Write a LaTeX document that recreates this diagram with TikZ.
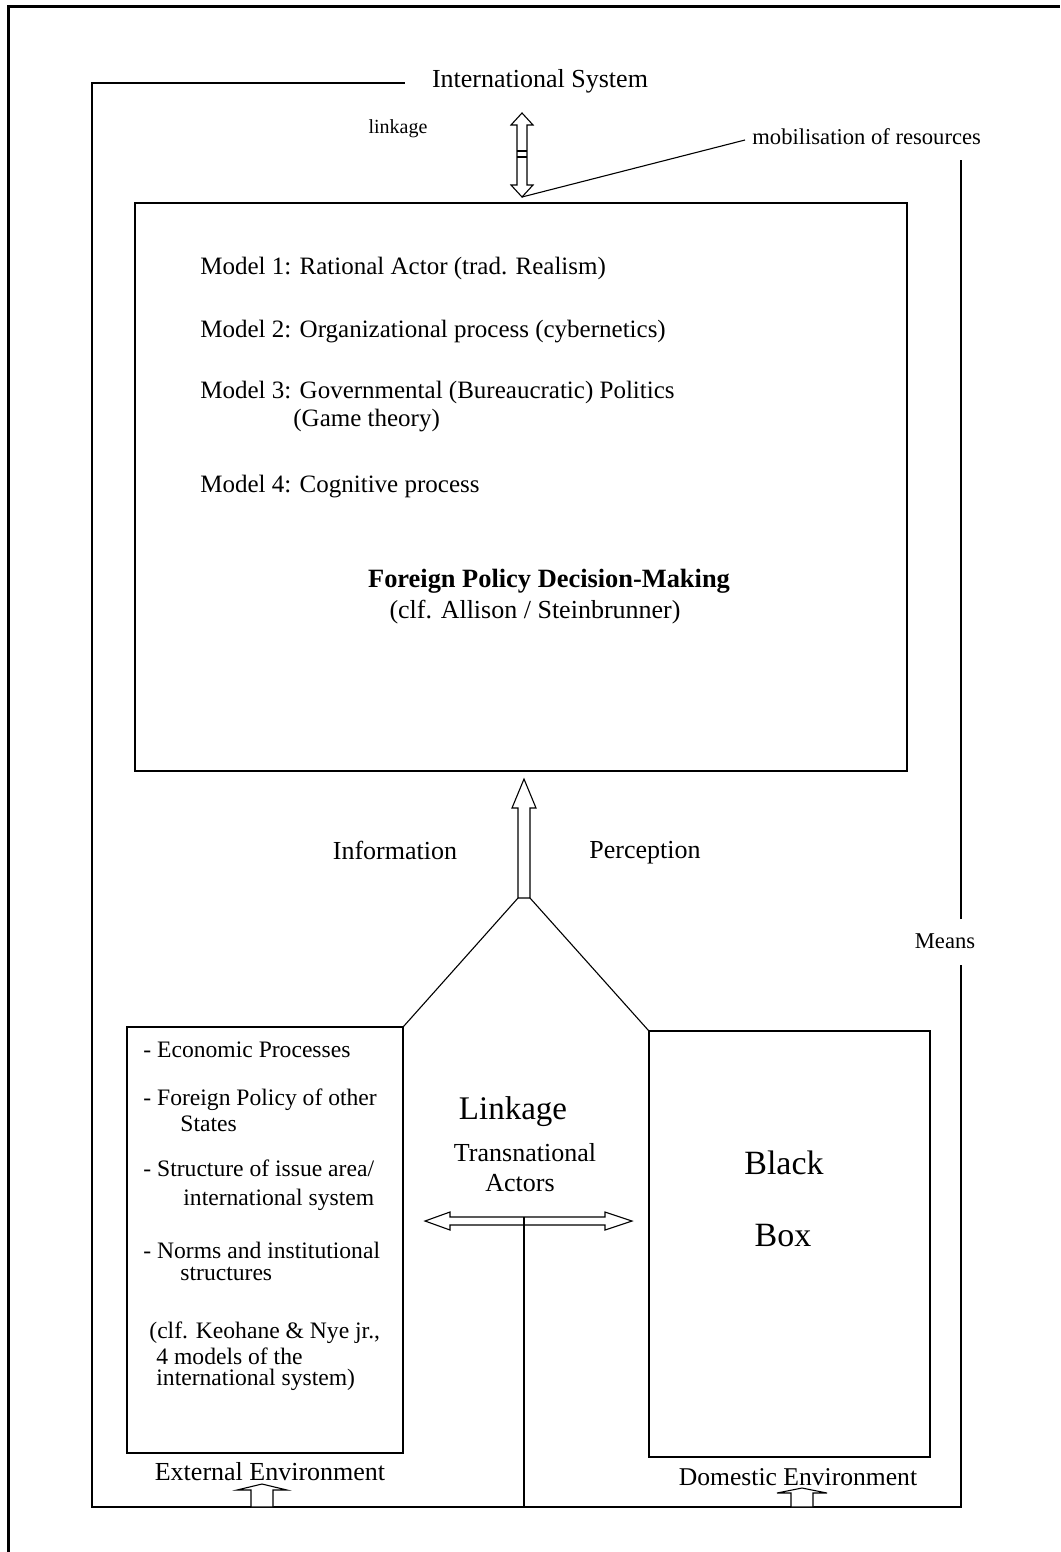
\documentclass[tikz,border=0pt]{standalone}
\usepackage{fontspec}
\setmainfont{Liberation Serif}
\usetikzlibrary{calc,fit}
\begin{document}
\begin{tikzpicture}[x=0.5pt,y=-0.5pt,
  edge/.style={draw=black, line width=0.55pt},
  hollow/.style={draw=black, line width=0.55pt, fill=white, line join=miter},
  box/.style={draw=black, line width=0.6pt, inner sep=0pt},
  txt/.style={inner sep=0pt, font=\fontsize{13}{15}\selectfont},
  small/.style={inner sep=0pt, font=\fontsize{11.3}{13}\selectfont},
  model/.style={anchor=west, inner sep=0pt, font=\fontsize{12.5}{15}\selectfont},
  item/.style={anchor=west, inner sep=0pt, font=\fontsize{11.8}{14}\selectfont},
  big/.style={inner sep=0pt, font=\fontsize{16.5}{19}\selectfont}
]
\useasboundingbox (0,0) rectangle (1060,1552);

% page border
\draw[line width=1.5pt] (8,1552) -- (8,7) -- (1060,7);

% top labels
\node[txt] (intsys) at (540,81) {International System};
\node[inner sep=0pt, font=\fontsize{10}{12}\selectfont] (link) at (398,129) {linkage};
\node[small, anchor=west] (mob) at (752,137) {mobilisation of resources};

% frame of the international system
\draw[edge] ($(intsys.west)+(-27,2)$) -- (92,83) -- (92,1507) -- (961,1507) -- (961,965);
\draw[edge] (961,919) -- (961,160);
\node[small] (means) at (945,941) {Means};

% two-way linkage arrow
\draw[hollow] (522,113) -- (533,125) -- (527,125) -- (527,185) -- (533,185) -- (522,197)
  -- (511,185) -- (517,185) -- (517,125) -- (511,125) -- cycle;
\draw[edge] (517,151) -- (527,151) (517,157) -- (527,157);
\coordinate (linkfoot) at (522,197);
\draw[edge] (linkfoot) -- ($(mob.west)+(-7,3)$);

% decision-making box
\node[box, fit={(135,203)(907,771)}] (fpdm) {};
\node[model] (m1) at (200,268) {Model 1: Rational Actor (trad. Realism)};
\node[model] (m2) at (200,332) {Model 2: Organizational process (cybernetics)};
\node[model] (m3) at (200,392) {Model 3: Governmental (Bureaucratic) Politics};
\node[model] (m3b) at (293,421) {(Game theory)};
\node[model] (m4) at (200,487) {Model 4: Cognitive process};
\node[txt, font=\fontsize{13.2}{15}\selectfont\bfseries] (fptitle) at (549,581) {Foreign Policy Decision-Making};
\node[txt] (allison) at (535,612) {(clf. Allison / Steinbrunner)};

% information arrow
\draw[hollow] (524,779) -- (536,808) -- (530,808) -- (530,898) -- (518,898) -- (518,808) -- (512,808) -- cycle;
\coordinate (infoL) at (518,898);
\coordinate (infoR) at (530,898);
\node[txt] (info) at (395,850) {Information};
\node[txt] (perc) at (645,853) {Perception};

% environment boxes
\node[box, fit={(127,1027)(403,1453)}] (ext) {};
\node[box, fit={(649,1031)(930,1457)}] (dom) {};
\draw[edge] (infoL) -- (ext.north east);
\draw[edge] (infoR) -- (dom.north west);

% external environment items
\node[item] (e1) at (143,1050) {- Economic Processes};
\node[item] (e2) at (143,1100) {- Foreign Policy of other};
\node[item] (e2b) at (180,1124) {States};
\node[item] (e3) at (143,1168) {- Structure of issue area/};
\node[item] (e3b) at (183,1200) {international system};
\node[item] (e4) at (143,1250) {- Norms and institutional};
\node[item] (e4b) at (180,1274) {structures};
\node[item] (e5) at (149,1333) {(clf. Keohane \& Nye jr.,};
\node[item] (e5b) at (156,1356) {4 models of the};
\node[item] (e5c) at (156,1380) {international system)};

% transnational linkage
\node[big] (linkage) at (513,1112) {Linkage};
\node[txt] (trans) at (525,1153) {Transnational};
\node[txt] (actors) at (520,1183) {Actors};
\draw[hollow] (425,1221) -- (450,1212) -- (450,1217) -- (605,1217) -- (605,1212) -- (632,1221)
  -- (605,1230) -- (605,1225) -- (450,1225) -- (450,1230) -- cycle;
\coordinate (hub) at (524,1217);
\coordinate (floor) at (524,1507);
\draw[edge] (hub) -- (floor);

% black box
\node[inner sep=0pt, font=\fontsize{17}{20}\selectfont] (black) at (784,1163) {Black};
\node[inner sep=0pt, font=\fontsize{17}{20}\selectfont] (boxw) at (783,1236) {Box};

% environment labels and inputs
\node[txt] (extlbl) at (270,1472) {External Environment};
\node[txt, font=\fontsize{12.8}{15}\selectfont] (domlbl) at (798,1477) {Domestic Environment};
\draw[hollow] (262,1484) -- (287,1490) -- (273,1490) -- (273,1507) -- (251,1507) -- (251,1490) -- (237,1490) -- cycle;
\draw[hollow] (802,1488) -- (827,1493) -- (813,1493) -- (813,1507) -- (791,1507) -- (791,1493) -- (777,1493) -- cycle;
\end{tikzpicture}
\end{document}
